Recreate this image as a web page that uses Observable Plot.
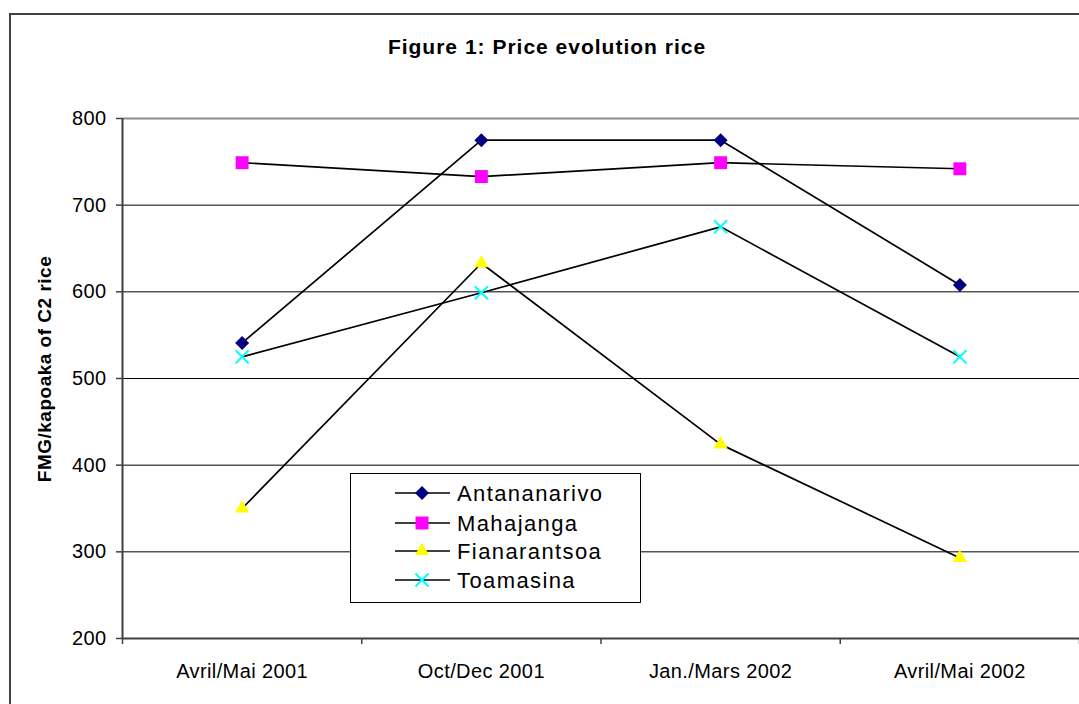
<!DOCTYPE html>
<html><head><meta charset="utf-8">
<script src="https://cdn.jsdelivr.net/npm/d3@7"></script>
<script src="https://cdn.jsdelivr.net/npm/@observablehq/plot@0.6"></script>
<style>
body{margin:0;background:#fff}
#wrap{position:relative;width:1079px;height:704px;overflow:hidden;font-family:"Liberation Sans",Arial,sans-serif;background:#fff}
#legend{position:absolute;left:350px;top:473px;width:289px;height:128px;border:1px solid #000;background:#fff}
#wrap svg text{letter-spacing:0.4px}
</style>
</head><body><div id="wrap"></div>
<script>
const periods = ["Avril/Mai 2001", "Oct/Dec 2001", "Jan./Mars 2002", "Avril/Mai 2002"];
const seriesNames = ["Antananarivo", "Mahajanga", "Fianarantsoa", "Toamasina"];
const antananarivo = [541, 775, 775, 608];
const mahajanga = [749, 733, 749, 742];
const fianarantsoa = [350, 633, 424, 293];
const toamasina = [525, 599, 675, 525];
const yTicks = [200, 300, 400, 500, 600, 700, 800];
const title = "Figure 1: Price evolution rice";
const yLabel = "FMG/kapoaka of C2 rice";

const seriesValues = [antananarivo, mahajanga, fianarantsoa, toamasina];
const styles = [
  {symbol: "diamond2", r: 6.3, fill: "#000080", stroke: "none", strokeWidth: 0},
  {symbol: "square", r: 7.3, fill: "#ff00ff", stroke: "none", strokeWidth: 0},
  {symbol: "triangle", r: 5.3, fill: "#ffff00", stroke: "none", strokeWidth: 0},
  {symbol: "times", r: 6.0, fill: "none", stroke: "#00ffff", strokeWidth: 2}
];
const rows = [];
seriesNames.forEach((s, k) => seriesValues[k].forEach((v, i) => rows.push({series: s, i, value: v})));

const boundaries = d3.range(periods.length + 1).map(i => i - 0.5);

const marks = [
  Plot.ruleY(yTicks.filter(v => v > 200 && v < 800), {stroke: "#000", strokeWidth: 1}),
  Plot.ruleY([800], {stroke: "#8c8c8c", strokeWidth: 2}),
  Plot.axisY({ticks: yTicks, tickSize: 6, tickPadding: 10, fontSize: 20, label: null, stroke: "#404040", strokeWidth: 1.5, color: "#000"}),
  Plot.axisX({ticks: boundaries, tickFormat: () => "", tickSize: 6, label: null, stroke: "#404040", strokeWidth: 1.5}),
  Plot.axisX({ticks: d3.range(periods.length), tickFormat: i => periods[i], tickSize: 0, tickPadding: 25, fontSize: 20, label: null}),
  Plot.ruleY([200], {stroke: "#404040", strokeWidth: 2}),
  Plot.ruleX([-0.5], {y1: 200, y2: 800, stroke: "#404040", strokeWidth: 2}),
  Plot.line(rows, {x: "i", y: "value", z: "series", stroke: "#000", strokeWidth: 1.7})
];
seriesNames.forEach((s, k) => {
  const st = styles[k];
  marks.push(Plot.dot(rows.filter(d => d.series === s), {x: "i", y: "value", symbol: st.symbol, r: st.r, fill: st.fill, stroke: st.stroke, strokeWidth: st.strokeWidth}));
});

const chart = Plot.plot({
  width: 1079, height: 704,
  marginLeft: 122, marginRight: 0, marginTop: 118, marginBottom: 66,
  style: {fontFamily: '"Liberation Sans", Arial, sans-serif', background: "#fff", color: "#000"},
  x: {type: "linear", domain: [-0.5, periods.length - 0.5], axis: null},
  y: {domain: [200, 800], axis: null},
  marks
});
const wrap = document.getElementById("wrap");
wrap.appendChild(chart);

const svg = d3.select(chart);
svg.append("path").attr("d", "M10,704V14H1079").attr("fill", "none").attr("stroke", "#404040").attr("stroke-width", 2);
svg.append("text").attr("x", 547).attr("y", 54).attr("text-anchor", "middle")
  .attr("font-weight", "bold").attr("font-size", 21).style("letter-spacing", "1px").attr("fill", "#000").text(title);
svg.append("text").attr("transform", "translate(51,369) rotate(-90)").attr("text-anchor", "middle")
  .attr("font-weight", "bold").attr("font-size", 19).style("letter-spacing", "0.5px").attr("fill", "#000").text(yLabel);

// legend
const leg = document.createElement("div");
leg.id = "legend";
wrap.appendChild(leg);
const lsvg = d3.select(leg).append("svg").attr("width", 289).attr("height", 128).style("display", "block");
const rowY = [19, 49, 77, 106];
const symMap = {diamond2: d3.symbolDiamond2, square: d3.symbolSquare, triangle: d3.symbolTriangle, times: d3.symbolTimes};
seriesNames.forEach((s, k) => {
  const st = styles[k];
  const g = lsvg.append("g").attr("transform", `translate(0,${rowY[k]})`);
  g.append("line").attr("x1", 44).attr("x2", 99).attr("y1", 0).attr("y2", 0).attr("stroke", "#000").attr("stroke-width", 1.7);
  g.append("path").attr("transform", "translate(71,0)")
    .attr("d", d3.symbol(symMap[st.symbol], Math.PI * st.r * st.r)())
    .attr("fill", st.fill).attr("stroke", st.stroke).attr("stroke-width", st.strokeWidth);
  g.append("text").attr("x", 106).attr("y", 8).attr("font-size", 22).style("letter-spacing", "1.4px").attr("fill", "#000").text(s);
});
</script>
</body></html>
